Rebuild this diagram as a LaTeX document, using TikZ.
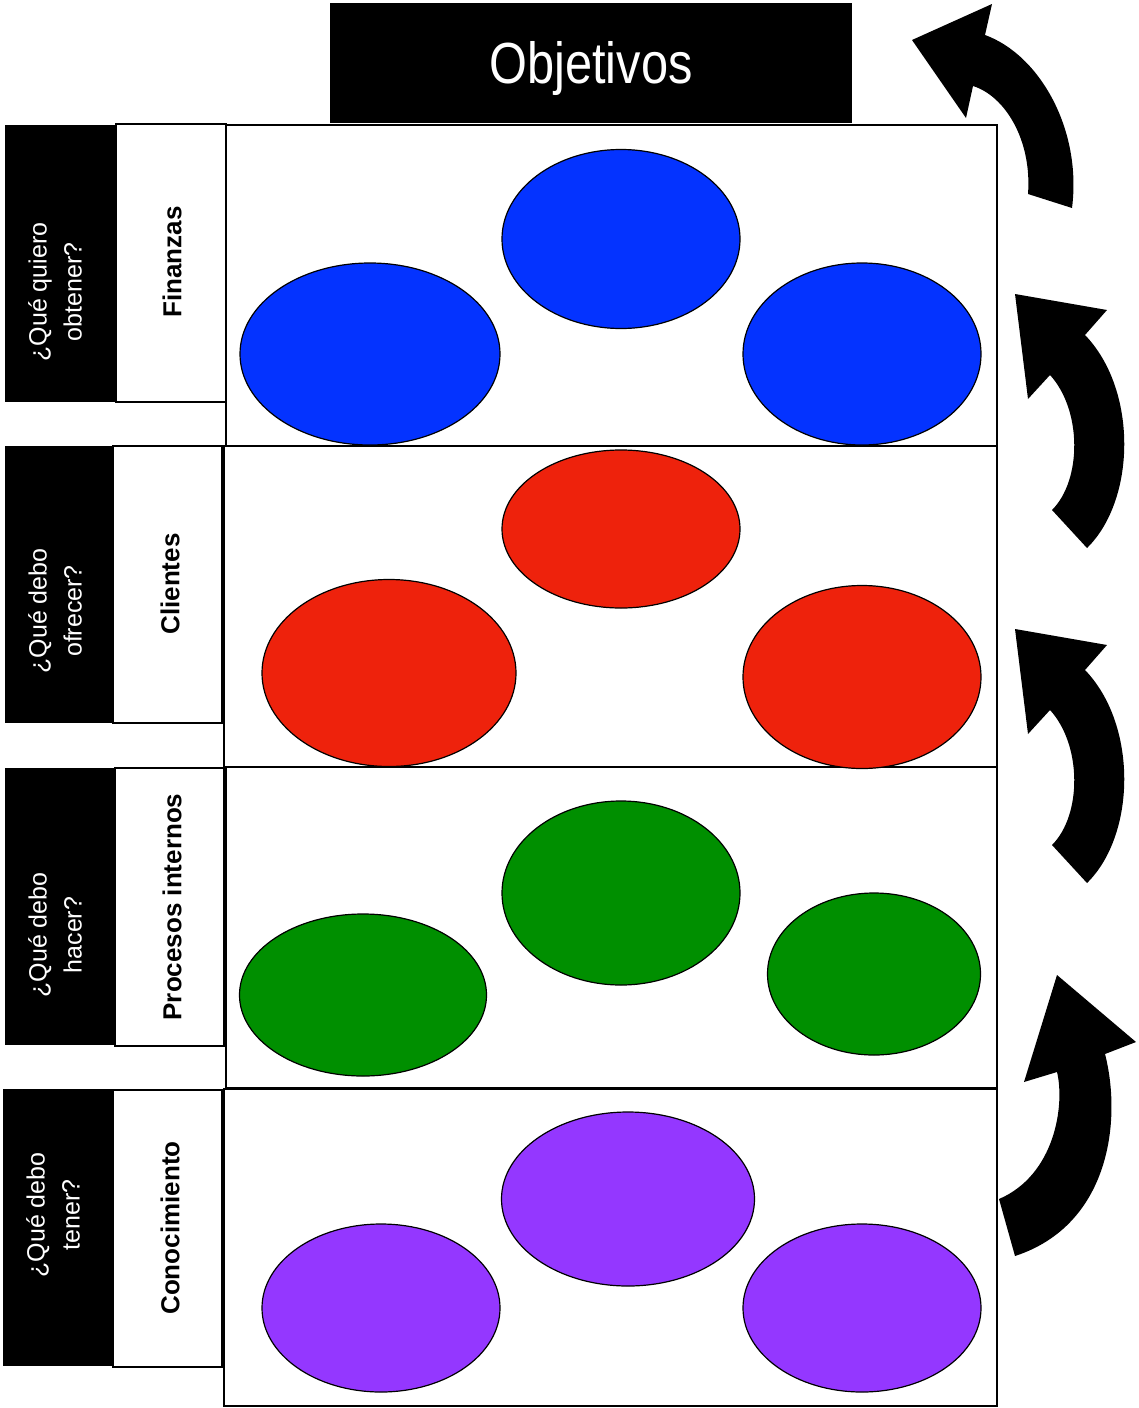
\documentclass[tikz,border=0pt]{standalone}
\usepackage{fontspec}
\setmainfont{Liberation Sans}
\usetikzlibrary{shapes.geometric}
\definecolor{cblue}{HTML}{0433FF}
\definecolor{cred}{HTML}{EE220C}
\definecolor{cgreen}{HTML}{008F00}
\definecolor{cpurple}{HTML}{9437FF}
\begin{document}
\begin{tikzpicture}[x=1pt,y=-1pt,
  panel/.style={draw=black, line width=1.5pt, fill=white, anchor=north west, inner sep=0pt, outer sep=0pt},
  qbox/.style={fill=black, anchor=north west, inner sep=0pt, outer sep=0pt},
  lbox/.style={draw=black, line width=1.2pt, fill=white, anchor=north west, inner sep=0pt, outer sep=0pt},
  oval/.style={ellipse, draw=black, line width=1.2pt, inner sep=0pt},
  qtext/.style={text=white, rotate=90, align=center, font=\fontsize{25}{35}\selectfont},
  ltext/.style={rotate=90, font=\fontsize{26}{30}\selectfont\bfseries},
  bigarrow/.style={fill=black}]
\useasboundingbox (0,0) rectangle (1138,1408);
% title
\node[qbox, minimum width=522pt, minimum height=120pt] (obj) at (330,3) {};
\node[text=white, font=\fontsize{58}{60}\selectfont, xscale=0.84] (objt) at (591,69) {Objetivos};
% panels
\node[panel, minimum width=771pt, minimum height=321pt] (p1) at (226,125) {};
\node[panel, minimum width=773pt, minimum height=321pt] (p2) at (224,446) {};
\node[panel, minimum width=771pt, minimum height=321pt] (p3) at (226,767) {};
\node[panel, minimum width=773pt, minimum height=317pt] (p4) at (224,1089) {};
% question boxes
\node[qbox, minimum width=110pt, minimum height=277pt] (q1) at (5,125) {};
\node[qbox, minimum width=108pt, minimum height=277pt] (q2) at (5,446) {};
\node[qbox, minimum width=110pt, minimum height=277pt] (q3) at (5,768) {};
\node[qbox, minimum width=110pt, minimum height=277pt] (q4) at (3,1089) {};
% label boxes
\node[lbox, minimum width=110pt, minimum height=278pt] (l1) at (116,124) {};
\node[lbox, minimum width=109pt, minimum height=277pt] (l2) at (113,446) {};
\node[lbox, minimum width=109pt, minimum height=278pt] (l3) at (115,768) {};
\node[lbox, minimum width=109pt, minimum height=277pt] (l4) at (113,1090) {};
% question texts
\node[qtext] (qt1) at (55,292) {¿Qué quiero\\obtener?};
\node[qtext] (qt2) at (55,611) {¿Qué debo\\ofrecer?};
\node[qtext] (qt3) at (55,935) {¿Qué debo\\hacer?};
\node[qtext] (qt4) at (53,1215) {¿Qué debo\\tener?};
% labels
\node[ltext] (lt1) at (172,262) {Finanzas};
\node[ltext] (lt2) at (170,584) {Clientes};
\node[ltext] (lt3) at (172,907) {Procesos internos};
\node[ltext] (lt4) at (170,1228) {Conocimiento};
% ellipses
\node[oval, fill=cblue, minimum width=260pt, minimum height=182pt] (b1) at (370,354) {};
\node[oval, fill=cblue, minimum width=238pt, minimum height=179pt] (b2) at (621,239) {};
\node[oval, fill=cblue, minimum width=238pt, minimum height=182pt] (b3) at (862,354) {};
\node[oval, fill=cred, minimum width=254pt, minimum height=187pt] (r1) at (389,673) {};
\node[oval, fill=cred, minimum width=238pt, minimum height=158pt] (r2) at (621,529) {};
\node[oval, fill=cred, minimum width=238pt, minimum height=183pt] (r3) at (862,677) {};
\node[oval, fill=cgreen, minimum width=247pt, minimum height=162pt] (g1) at (363,995) {};
\node[oval, fill=cgreen, minimum width=238pt, minimum height=184pt] (g2) at (621,893) {};
\node[oval, fill=cgreen, minimum width=213pt, minimum height=162pt] (g3) at (874,974) {};
\node[oval, fill=cpurple, minimum width=238pt, minimum height=168pt] (v1) at (381,1308) {};
\node[oval, fill=cpurple, minimum width=253pt, minimum height=174pt] (v2) at (628,1199) {};
\node[oval, fill=cpurple, minimum width=238pt, minimum height=168pt] (v3) at (862,1308) {};
% curved arrows
\fill[bigarrow] (912,40) -- (966,118) -- (973,86)
  .. controls (1005,96) and (1032,140) .. (1028,194) -- (1072,208)
  .. controls (1082,130) and (1040,55) .. (985,35) -- (992,4) -- cycle;
\fill[bigarrow] (1015,294) -- (1107,310) -- (1085,335)
  .. controls (1138,390) and (1136,500) .. (1087,548) -- (1052,510)
  .. controls (1082,480) and (1082,410) .. (1050,375) -- (1028,399) -- cycle;
\fill[bigarrow] (1015,629) -- (1107,645) -- (1085,670)
  .. controls (1138,725) and (1136,835) .. (1087,883) -- (1052,845)
  .. controls (1082,815) and (1082,745) .. (1050,710) -- (1028,734) -- cycle;
\fill[bigarrow] (1057,975) -- (1136,1042) -- (1105,1054)
  .. controls (1122,1120) and (1110,1225) .. (1015,1256) -- (999,1199)
  .. controls (1055,1175) and (1065,1105) .. (1057,1072) -- (1024,1082) -- cycle;
\end{tikzpicture}
\end{document}
